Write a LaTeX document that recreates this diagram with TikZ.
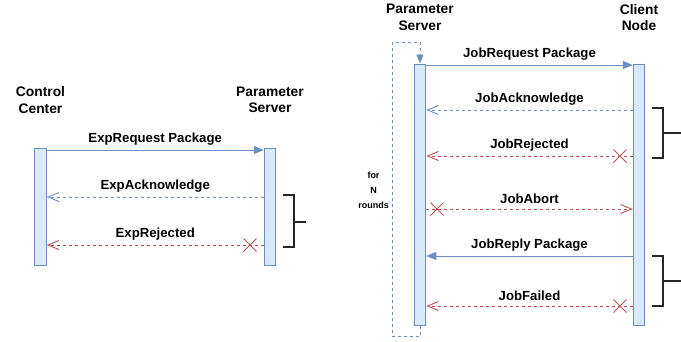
\documentclass[tikz,border=0pt]{standalone}
\usepackage{fontspec}
\setmainfont{Liberation Sans}
\usetikzlibrary{arrows.meta}
\definecolor{barfill}{HTML}{DAE8FC}
\definecolor{barline}{HTML}{6C8EBF}
\definecolor{rejline}{HTML}{B85450}
\begin{document}
\begin{tikzpicture}[x=1pt,y=-1pt,
  bar/.style={draw=barline,fill=barfill,line width=1pt,minimum width=11.5pt,inner sep=0pt},
  head/.style={font=\fontsize{13.8}{16.5}\selectfont\bfseries,align=center},
  lbl/.style={midway,yshift=10.5pt,font=\fontsize{13.2}{15}\selectfont\bfseries,inner sep=0pt},
  req/.style={draw=barline,line width=1pt,-{Triangle[length=10pt,width=8pt]},fill=barline},
  ack/.style={draw=barline,line width=0.9pt,dash pattern=on 3pt off 3pt,-{Straight Barb[length=11pt,width=9pt]}},
  rej/.style={draw=rejline,line width=0.9pt,dash pattern=on 3pt off 3pt,-{Straight Barb[length=11pt,width=9pt]}},
  brk/.style={draw=black!85,line width=1.3pt},
  crossmark/.pic={\draw[rejline,line width=0.9pt] (-6.5,-6.5)--(6.5,6.5) (-6.5,6.5)--(6.5,-6.5);}]
\useasboundingbox (0,0) rectangle (681,341);
% left part
\node[head] (cchead) at (40.5,100) {Control\\Center};
\node[head] (ps1head) at (270,100) {Parameter\\Server};
\node[bar,minimum height=117pt] (cc) at (40.5,206.5) {};
\node[bar,minimum height=117pt] (ps1) at (270,206.5) {};
\draw[req] (cc.east |- 0,150) -- (ps1.west |- 0,150) node[lbl]{ExpRequest Package};
\draw[ack] (ps1.west |- 0,197) -- (cc.east |- 0,197) node[lbl]{ExpAcknowledge};
\draw[rej] (ps1.west |- 0,245) -- (cc.east |- 0,245) node[lbl]{ExpRejected};
\pic at (250,245) {crossmark};
\draw[brk] (283,195) -- (294,195) -- (294,247) -- (283,247);
\draw[brk] (294,222) -- (306,222);
% right part
\node[head] (ps2head) at (420,17.5) {Parameter\\Server};
\node[head] (cnhead) at (639,17.5) {Client\\Node};
\node[bar,minimum height=261pt] (ps2) at (420,194.5) {};
\node[bar,minimum height=261pt] (cn) at (639,194.5) {};
\draw[barline,line width=0.9pt,dash pattern=on 3pt off 3pt,-{Triangle[length=9pt,width=7pt]}]
  (ps2.south) |- (392,336) |- (ps2.north |- 0,42) -- (ps2.north);
\node[font=\fontsize{9}{15}\selectfont\bfseries,align=center] (loops) at (373.5,190) {for\\N\\rounds};
\draw[req] (ps2.east |- 0,65) -- (cn.west |- 0,65) node[lbl]{JobRequest Package};
\draw[ack] (cn.west |- 0,110) -- (ps2.east |- 0,110) node[lbl]{JobAcknowledge};
\draw[rej] (cn.west |- 0,156) -- (ps2.east |- 0,156) node[lbl]{JobRejected};
\pic at (620,156) {crossmark};
\draw[rej] (ps2.east |- 0,209) -- (cn.west |- 0,209) node[lbl]{JobAbort};
\pic at (437,209) {crossmark};
\draw[req] (cn.west |- 0,256) -- (ps2.east |- 0,256) node[lbl]{JobReply Package};
\draw[rej] (cn.west |- 0,306) -- (ps2.east |- 0,306) node[lbl]{JobFailed};
\pic at (620,306) {crossmark};
\draw[brk] (652,108) -- (663,108) -- (663,158) -- (652,158);
\draw[brk] (663,133) -- (681,133);
\draw[brk] (652,256) -- (663,256) -- (663,306) -- (652,306);
\draw[brk] (663,281) -- (681,281);
\end{tikzpicture}
\end{document}
